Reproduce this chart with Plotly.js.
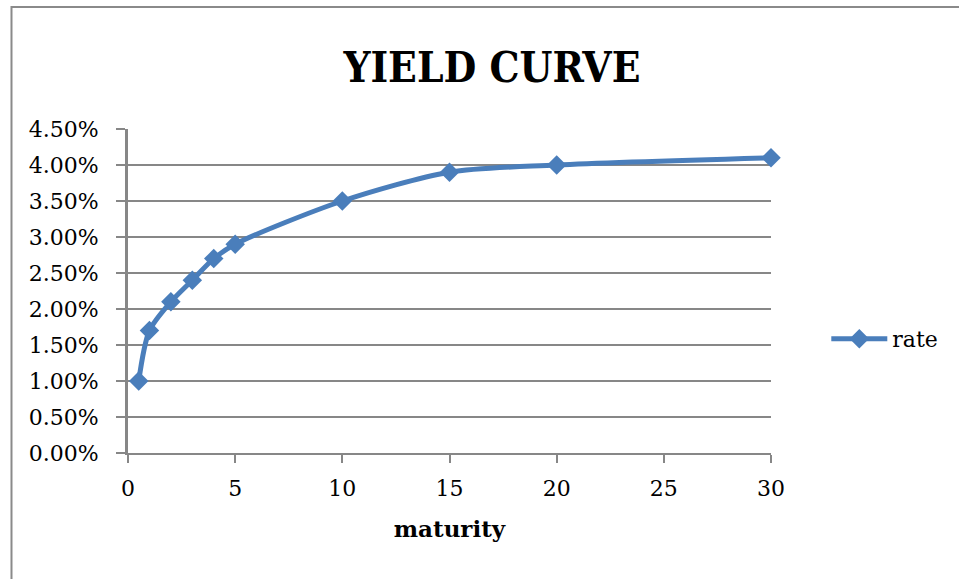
<!DOCTYPE html>
<html>
<head>
<meta charset="utf-8">
<script src="https://cdn.plot.ly/plotly-3.0.1.min.js"></script>
<style>
  html, body { margin: 0; padding: 0; background: #ffffff; overflow: hidden; }
  #chart { width: 959px; height: 579px; }
</style>
</head>
<body>
<div id="chart"></div>
<script>
// Data
const maturity = [0.5, 1, 2, 3, 4, 5, 10, 15, 20, 30];
const rate = [0.010, 0.017, 0.021, 0.024, 0.027, 0.029, 0.035, 0.039, 0.040, 0.041];
const seriesName = 'rate';
const chartTitle = 'YIELD CURVE';
const xTitle = 'maturity';

const blue = '#4a7ebb';
const grid = '#878787';
const serif = '"DejaVu Serif", serif';

const trace = {
  x: maturity,
  y: rate,
  name: seriesName,
  type: 'scatter',
  mode: 'lines+markers',
  line: { color: blue, width: 5, shape: 'spline', smoothing: 0.8 },
  marker: { symbol: 'diamond', size: 15, color: blue, line: { width: 0 } },
  cliponaxis: false
};

const layout = {
  width: 959,
  height: 579,
  margin: { l: 128, r: 188, t: 129, b: 126, pad: 0 },
  paper_bgcolor: '#ffffff',
  plot_bgcolor: 'rgba(0,0,0,0)',
  title: {
    text: '<b>' + chartTitle + '</b>',
    font: { family: '"DejaVu Serif Condensed", "DejaVu Serif", serif', size: 42, color: '#000000' },
    xref: 'container', x: 0.513, xanchor: 'center',
    yref: 'container', y: 1 - 82 / 579, yanchor: 'bottom'
  },
  showlegend: true,
  legend: {
    x: 1.086, xanchor: 'left', y: 0.352, yanchor: 'middle',
    font: { family: serif, size: 22, color: '#000000' },
    bgcolor: 'rgba(0,0,0,0)', borderwidth: 0,
    itemwidth: 56
  },
  xaxis: {
    range: [0, 30],
    dtick: 5, tick0: 0,
    showgrid: false, zeroline: false,
    showline: true, linecolor: grid, linewidth: 2,
    ticks: 'outside', ticklen: 8, tickwidth: 2, tickcolor: grid,
    tickfont: { family: serif, size: 22, color: '#000000' },
    ticklabelstandoff: 7,
    title: { text: '<b>' + xTitle + '</b>', font: { family: serif, size: 23, color: '#000000' }, standoff: 20 },
    fixedrange: true
  },
  yaxis: {
    range: [0, 0.045],
    dtick: 0.005, tick0: 0,
    tickformat: '.2%',
    showgrid: true, gridcolor: grid, gridwidth: 2,
    zeroline: false,
    showline: true, linecolor: grid, linewidth: 3,
    ticks: 'outside', ticklen: 9, tickwidth: 2, tickcolor: grid,
    tickfont: { family: serif, size: 22, color: '#000000' },
    ticklabelstandoff: 13,
    fixedrange: true
  },
  shapes: [
    {
      type: 'rect', xref: 'paper', yref: 'paper', layer: 'below',
      x0: -0.1812, x1: 2, y0: -2, y1: 1.3765,
      line: { color: '#8a8a8a', width: 2 }, fillcolor: 'rgba(0,0,0,0)'
    }
  ]
};

Plotly.newPlot('chart', [trace], layout, { displayModeBar: false, staticPlot: true });
</script>
</body>
</html>
